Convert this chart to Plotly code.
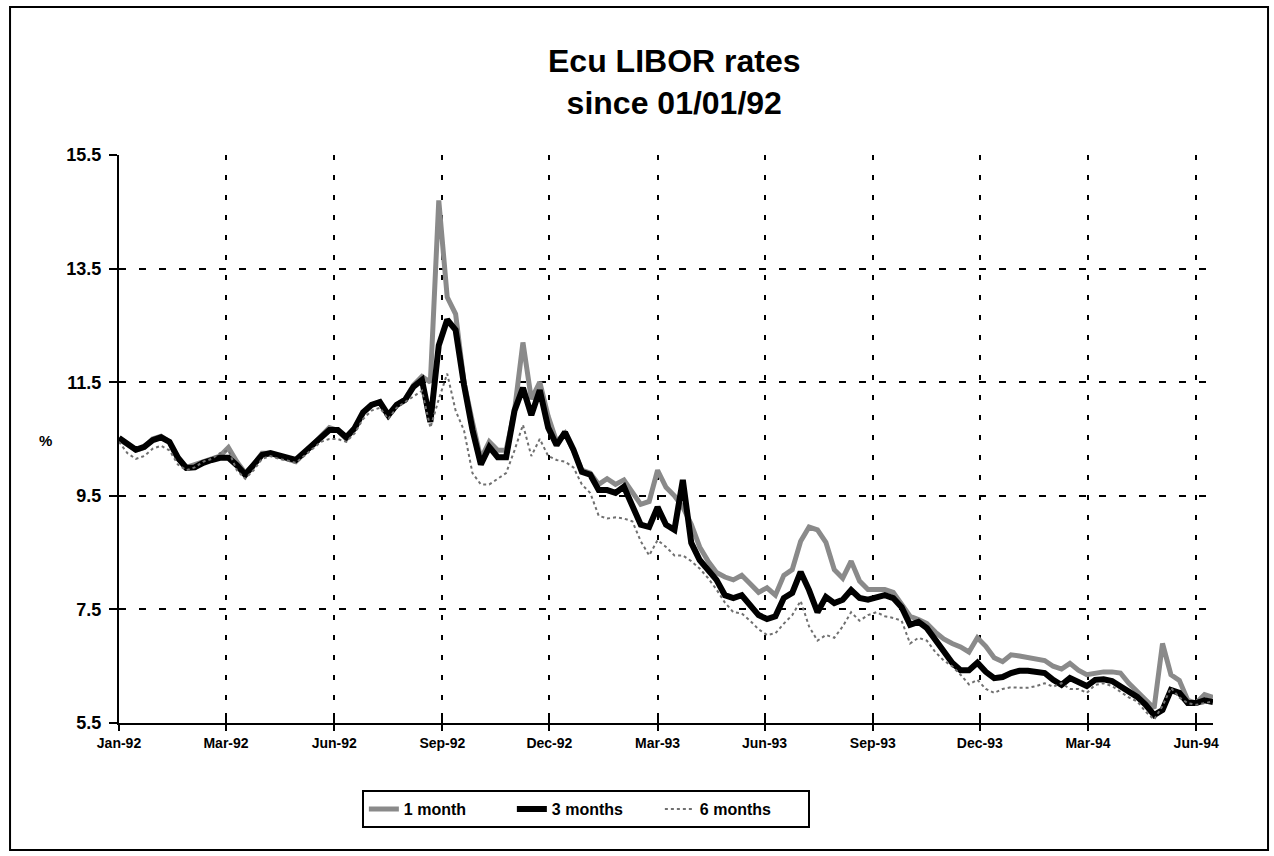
import pandas as pd
import plotly.graph_objects as go

# Weekly observations starting 1 January 1992
start_date = "1992-01-01"
n_weeks = 131

libor_1m = [
    10.50, 10.40, 10.30, 10.35, 10.50, 10.55, 10.45, 10.15, 10.00, 10.05,
    10.10, 10.15, 10.20, 10.35, 10.10, 9.90, 10.05, 10.25, 10.25, 10.20,
    10.15, 10.10, 10.25, 10.40, 10.55, 10.70, 10.65, 10.50, 10.70, 10.95,
    11.10, 11.15, 10.90, 11.10, 11.20, 11.45, 11.60, 11.50, 14.70, 13.00,
    12.70, 11.50, 10.80, 10.15, 10.45, 10.30, 10.30, 11.00, 12.20, 11.20,
    11.50, 10.90, 10.45, 10.60, 10.30, 9.95, 9.90, 9.70, 9.80, 9.70,
    9.78, 9.55, 9.35, 9.40, 9.95, 9.65, 9.50, 9.30, 9.00, 8.60,
    8.35, 8.15, 8.07, 8.02, 8.10, 7.95, 7.80, 7.88, 7.75, 8.10,
    8.20, 8.70, 8.95, 8.90, 8.68, 8.20, 8.05, 8.35, 8.00, 7.85,
    7.85, 7.85, 7.80, 7.60, 7.38, 7.32, 7.25, 7.10, 6.98, 6.90,
    6.84, 6.75, 7.00, 6.85, 6.65, 6.58, 6.70, 6.68, 6.65, 6.64,
    6.60, 6.50, 6.45, 6.55, 6.43, 6.35, 6.38, 6.40, 6.40, 6.38,
    6.20, 6.05, 5.88, 5.76, 6.90, 6.35, 6.25, 5.90, 5.85, 6.00,
    5.95,
]

libor_3m = [
    10.52, 10.43, 10.31, 10.36, 10.48, 10.53, 10.45, 10.17, 9.99, 10.00,
    10.08, 10.13, 10.17, 10.17, 10.04, 9.87, 10.04, 10.22, 10.25, 10.22,
    10.17, 10.13, 10.27, 10.39, 10.55, 10.66, 10.66, 10.53, 10.69, 10.97,
    11.10, 11.15, 10.92, 11.10, 11.19, 11.42, 11.54, 10.80, 12.15, 12.60,
    12.42, 11.45, 10.66, 10.05, 10.36, 10.18, 10.18, 11.00, 11.40, 10.92,
    11.36, 10.70, 10.39, 10.62, 10.31, 9.92, 9.87, 9.60, 9.60, 9.55,
    9.66, 9.30, 8.99, 8.95, 9.30, 8.99, 8.90, 9.78, 8.67, 8.37,
    8.19, 8.02, 7.75, 7.70, 7.75, 7.58, 7.40, 7.33, 7.38, 7.70,
    7.79, 8.16, 7.84, 7.45, 7.72, 7.61, 7.67, 7.84, 7.70, 7.67,
    7.70, 7.75, 7.70, 7.54, 7.23, 7.28, 7.17, 6.96, 6.75, 6.56,
    6.43, 6.43, 6.56, 6.40, 6.29, 6.31, 6.38, 6.42, 6.42, 6.40,
    6.38, 6.26, 6.17, 6.29, 6.22, 6.15, 6.26, 6.27, 6.24, 6.15,
    6.08, 5.96, 5.82, 5.64, 5.73, 6.08, 6.03, 5.85, 5.85, 5.90,
    5.87,
]

libor_6m = [
    10.45, 10.25, 10.15, 10.20, 10.33, 10.38, 10.30, 10.05, 9.95, 10.00,
    10.10, 10.15, 10.25, 10.30, 9.95, 9.80, 9.95, 10.15, 10.20, 10.15,
    10.12, 10.08, 10.20, 10.33, 10.45, 10.50, 10.50, 10.45, 10.60, 10.85,
    11.00, 11.05, 10.85, 11.05, 11.15, 11.25, 11.35, 10.70, 11.20, 11.65,
    11.00, 10.65, 9.90, 9.70, 9.70, 9.80, 9.90, 10.30, 10.75, 10.20,
    10.50, 10.20, 10.13, 10.10, 10.00, 9.70, 9.55, 9.15, 9.10, 9.12,
    9.10, 9.05, 8.70, 8.45, 8.72, 8.60, 8.45, 8.45, 8.35, 8.22,
    8.05, 7.85, 7.62, 7.45, 7.43, 7.30, 7.15, 7.05, 7.08, 7.25,
    7.40, 7.65, 7.20, 6.95, 7.05, 7.00, 7.20, 7.45, 7.30, 7.40,
    7.45, 7.38, 7.35, 7.30, 6.90, 7.00, 6.95, 6.75, 6.60, 6.50,
    6.35, 6.18, 6.26, 6.10, 6.03, 6.10, 6.13, 6.12, 6.12, 6.15,
    6.20, 6.14, 6.20, 6.10, 6.10, 6.03, 6.17, 6.20, 6.15, 6.05,
    5.95, 5.88, 5.70, 5.56, 5.80, 6.12, 5.95, 5.85, 5.82, 5.85,
    5.88,
]

tick_dates = [
    "1992-01-01", "1992-03-30", "1992-06-28", "1992-09-26", "1992-12-24",
    "1993-03-24", "1993-06-21", "1993-09-19", "1993-12-17", "1994-03-17",
    "1994-06-15",
]
tick_labels = [
    "Jan-92", "Mar-92", "Jun-92", "Sep-92", "Dec-92", "Mar-93",
    "Jun-93", "Sep-93", "Dec-93", "Mar-94", "Jun-94",
]
y_ticks = [5.5, 7.5, 9.5, 11.5, 13.5, 15.5]
y_grid = [7.5, 9.5, 11.5, 13.5]

dates = pd.date_range(start_date, periods=n_weeks, freq="7D")
x_range = [dates[0], dates[-1]]

FONT = "Liberation Sans, Arial, sans-serif"
BLACK = "#000000"

fig = go.Figure()

fig.add_trace(go.Scatter(
    x=dates, y=libor_1m, name="<b>1 month</b>", mode="lines",
    line=dict(color="#8a8a8a", width=5),
))
fig.add_trace(go.Scatter(
    x=dates, y=libor_3m, name="<b>3 months</b>", mode="lines",
    line=dict(color=BLACK, width=6),
))
fig.add_trace(go.Scatter(
    x=dates, y=libor_6m, name="<b>6 months</b>", mode="lines",
    line=dict(color="#707070", width=2, dash="dot"),
))
# helper traces that bind the overlay axes (cross ticks and grid)
fig.add_trace(go.Scatter(x=dates, y=libor_3m, mode="none", showlegend=False,
                         hoverinfo="skip", xaxis="x2", yaxis="y2"))
fig.add_trace(go.Scatter(x=dates, y=libor_3m, mode="none", showlegend=False,
                         hoverinfo="skip", xaxis="x", yaxis="y3"))

fig.update_layout(
    width=1274, height=856,
    margin=dict(l=119, r=61, t=155, b=133, autoexpand=False),
    paper_bgcolor="white", plot_bgcolor="white",
    showlegend=True,
    xaxis=dict(
        type="date", range=x_range,
        tickvals=tick_dates, ticktext=[f"<b>{t}</b>" for t in tick_labels],
        tickfont=dict(family=FONT, size=14, color=BLACK),
        ticks="outside", ticklen=6, tickwidth=2, tickcolor=BLACK,
        showline=True, linecolor=BLACK, linewidth=2,
        showgrid=True, gridcolor=BLACK, gridwidth=2, griddash="5px,15px",
        zeroline=False,
    ),
    xaxis2=dict(
        type="date", range=x_range, overlaying="x", anchor="y2",
        tickvals=tick_dates, showticklabels=False,
        ticks="inside", ticklen=10, tickwidth=2, tickcolor=BLACK,
        showgrid=False, showline=False, zeroline=False,
    ),
    yaxis=dict(
        range=[5.5, 15.5], tickvals=y_ticks,
        ticktext=[f"<b>{v:.1f}</b>" for v in y_ticks],
        tickfont=dict(family=FONT, size=18, color=BLACK),
        ticks="outside", ticklen=8, tickwidth=2, tickcolor=BLACK,
        ticklabelstandoff=4,
        showline=True, linecolor=BLACK, linewidth=2,
        showgrid=False, zeroline=False,
    ),
    yaxis2=dict(
        range=[5.5, 15.5], overlaying="y", anchor="x2",
        tickvals=y_ticks, showticklabels=False,
        ticks="inside", ticklen=7, tickwidth=2, tickcolor=BLACK,
        showgrid=False, showline=False, zeroline=False,
    ),
    yaxis3=dict(
        range=[5.5, 15.5], overlaying="y", anchor="x",
        tickvals=y_grid, showticklabels=False, ticks="",
        showgrid=True, gridcolor=BLACK, gridwidth=2, griddash="7px,13px",
        showline=False, zeroline=False,
    ),
    legend=dict(
        orientation="h", x=0.222, y=-0.118, xanchor="left", yanchor="top",
        bordercolor=BLACK, borderwidth=2, bgcolor="white",
        font=dict(family=FONT, size=16, color=BLACK),
        entrywidth=103, traceorder="normal",
    ),
    annotations=[
        dict(text="<b>Ecu LIBOR rates<br>since 01/01/92</b>",
             xref="paper", yref="paper", x=0.508, y=1.1285,
             xanchor="center", yanchor="middle", showarrow=False,
             font=dict(family=FONT, size=32, color=BLACK)),
        dict(text="<b>%</b>", xref="paper", yref="paper", x=-0.0676, y=0.498,
             xanchor="center", yanchor="middle", showarrow=False,
             font=dict(family=FONT, size=15, color=BLACK)),
    ],
    shapes=[
        dict(type="rect", xref="paper", yref="paper",
             x0=-0.0996, x1=1.0503, y0=-0.2236, y1=1.2606,
             line=dict(color=BLACK, width=2), fillcolor="rgba(0,0,0,0)",
             layer="below"),
    ],
)

fig.write_html("out.html")
